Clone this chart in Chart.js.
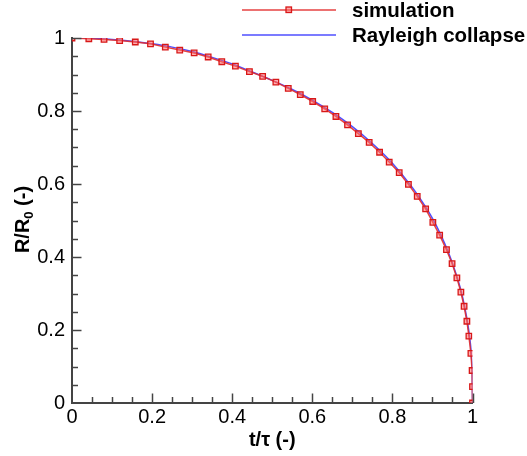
<!DOCTYPE html>
<html lang="en">

<head>
    <meta charset="UTF-8">
    <title>Rayleigh collapse</title>
    <script src="https://cdn.jsdelivr.net/npm/chart.js"></script>
    <style>
        body {
            margin: 0;
            background: #fff;
        }

        canvas {
            display: block;
        }
    </style>
</head>

<body>
    <canvas id="chart" width="527" height="456"></canvas>
    <script>
        // simulated bubble radius history
        const simT = [0, 0.042, 0.080, 0.119, 0.158, 0.196, 0.233, 0.269, 0.305, 0.340, 0.374, 0.408, 0.443, 0.476,
            0.509, 0.540, 0.570, 0.601, 0.631, 0.659, 0.688, 0.715, 0.742, 0.768, 0.792, 0.817, 0.840, 0.862, 0.883,
            0.901, 0.918, 0.935, 0.949, 0.961, 0.971, 0.979, 0.986, 0.991, 0.996, 0.999, 1.000, 1.000];
        const simR = [1.000, 0.998, 0.996, 0.993, 0.989, 0.984, 0.975, 0.967, 0.959, 0.948, 0.935, 0.923, 0.908, 0.895,
            0.879, 0.862, 0.845, 0.826, 0.806, 0.785, 0.762, 0.738, 0.714, 0.687, 0.660, 0.631, 0.599, 0.566, 0.532,
            0.495, 0.460, 0.420, 0.382, 0.343, 0.304, 0.265, 0.224, 0.183, 0.136, 0.089, 0.045, 0];

        // analytical Rayleigh collapse curve
        const rayT = [0, 0.05, 0.10, 0.15, 0.20, 0.25, 0.30, 0.35, 0.40, 0.45, 0.50, 0.55, 0.60, 0.65, 0.70, 0.75,
            0.80, 0.85, 0.88, 0.90, 0.92, 0.94, 0.96, 0.97, 0.98, 0.99, 0.995, 0.998, 0.9995, 1.0];
        const rayR = [1.000, 0.999, 0.996, 0.991, 0.984, 0.975, 0.963, 0.947, 0.929, 0.907, 0.884, 0.859, 0.830, 0.796,
            0.757, 0.711, 0.657, 0.590, 0.542, 0.506, 0.463, 0.412, 0.350, 0.313, 0.266, 0.204, 0.160, 0.118, 0.075, 0];

        const tickLabels = ['0', '0.2', '0.4', '0.6', '0.8', '1'];
        const legendLabels = ['simulation', 'Rayleigh collapse'];

        const FONT = "'Liberation Sans', Arial, Helvetica, sans-serif";
        const RED = 'rgba(226, 45, 45, 0.9)';
        const BLUE = 'rgba(70, 70, 255, 0.95)';
        const AXIS = '#444';

        const toXY = (xs, ys) => xs.map((x, i) => ({ x: x, y: ys[i] }));

        // inward major/minor ticks, legend and axis titles
        const decorations = {
            id: 'decorations',
            afterDraw(chart) {
                const { ctx, chartArea: a, scales: { x, y } } = chart;
                ctx.save();
                ctx.strokeStyle = AXIS;
                ctx.lineWidth = 1.5;
                for (let i = 1; i <= 20; i++) {
                    const v = i * 0.05;
                    const len = i % 4 === 0 ? 9.5 : 6;
                    const px = Math.round(x.getPixelForValue(v)) + 0.5;
                    ctx.beginPath();
                    ctx.moveTo(px, a.bottom);
                    ctx.lineTo(px, a.bottom - len);
                    ctx.stroke();
                    const py = Math.round(y.getPixelForValue(v)) + 0.5;
                    ctx.beginPath();
                    ctx.moveTo(a.left, py);
                    ctx.lineTo(a.left + len, py);
                    ctx.stroke();
                }

                // legend
                const lx0 = 242, lx1 = 336, tx = 352;
                ctx.lineWidth = 1.5;
                ctx.strokeStyle = RED;
                ctx.beginPath();
                ctx.moveTo(lx0, 10);
                ctx.lineTo(lx1, 10);
                ctx.stroke();
                ctx.fillStyle = 'rgba(255, 110, 110, 0.6)';
                ctx.fillRect(286, 7, 5.5, 5.5);
                ctx.strokeStyle = '#d81818';
                ctx.lineWidth = 1.3;
                ctx.strokeRect(286, 7, 5.5, 5.5);
                ctx.strokeStyle = BLUE;
                ctx.lineWidth = 1.5;
                ctx.beginPath();
                ctx.moveTo(lx0, 35);
                ctx.lineTo(lx1, 35);
                ctx.stroke();

                ctx.fillStyle = '#000';
                ctx.font = 'bold 20.5px ' + FONT;
                ctx.textAlign = 'left';
                ctx.textBaseline = 'alphabetic';
                ctx.fillText(legendLabels[0], tx, 16.7);
                ctx.fillText(legendLabels[1], tx, 41.7);

                // x title
                ctx.font = 'bold 20px ' + FONT;
                ctx.textAlign = 'center';
                ctx.fillText('t/\u03c4 (-)', (a.left + a.right) / 2, 446);

                // y title with subscript
                ctx.translate(28.5, (a.top + a.bottom) / 2 - 1);
                ctx.rotate(-Math.PI / 2);
                ctx.textAlign = 'left';
                const big = 'bold 20px ' + FONT, small = 'bold 13px ' + FONT;
                ctx.font = big;
                const w1 = ctx.measureText('R/R').width;
                const w3 = ctx.measureText(' (-)').width;
                ctx.font = small;
                const w2 = ctx.measureText('0').width;
                let cx = -(w1 + w2 + w3) / 2;
                ctx.font = big;
                ctx.fillText('R/R', cx, 0);
                cx += w1;
                ctx.font = small;
                ctx.fillText('0', cx, 4);
                cx += w2;
                ctx.font = big;
                ctx.fillText(' (-)', cx, 0);
                ctx.restore();
            }
        };

        new Chart(document.getElementById('chart'), {
            type: 'line',
            data: {
                datasets: [
                    {
                        label: legendLabels[0],
                        data: toXY(simT, simR),
                        borderColor: RED,
                        borderWidth: 1.5,
                        tension: 0,
                        pointStyle: 'rect',
                        pointRadius: 3.9,
                        pointBorderWidth: 1.3,
                        pointBorderColor: '#d81818',
                        pointBackgroundColor: 'rgba(255, 110, 110, 0.55)',
                        order: 0
                    },
                    {
                        label: legendLabels[1],
                        data: toXY(rayT, rayR),
                        borderColor: BLUE,
                        borderWidth: 1.5,
                        cubicInterpolationMode: 'monotone',
                        pointRadius: 0,
                        order: 1
                    }
                ]
            },
            options: {
                responsive: false,
                animation: false,
                layout: { padding: { left: 0, top: 38, right: 54.5, bottom: 0 } },
                plugins: {
                    legend: { display: false },
                    tooltip: { enabled: false }
                },
                scales: {
                    x: {
                        type: 'linear',
                        min: 0,
                        max: 1,
                        afterFit: s => { s.height = 53; },
                        grid: { display: false, drawTicks: false },
                        border: { display: true, color: AXIS, width: 2 },
                        ticks: {
                            stepSize: 0.2,
                            padding: 2,
                            color: '#000',
                            font: { family: FONT, size: 20 },
                            maxRotation: 0,
                            callback: (v, i) => tickLabels[i]
                        }
                    },
                    y: {
                        type: 'linear',
                        min: 0,
                        max: 1,
                        afterFit: s => { s.width = 72; },
                        grid: { display: false, drawTicks: false },
                        border: { display: true, color: AXIS, width: 2 },
                        ticks: {
                            stepSize: 0.2,
                            padding: 7,
                            color: '#000',
                            font: { family: FONT, size: 20 },
                            callback: (v, i) => tickLabels[i]
                        }
                    }
                }
            },
            plugins: [decorations]
        });
    </script>
</body>

</html>
